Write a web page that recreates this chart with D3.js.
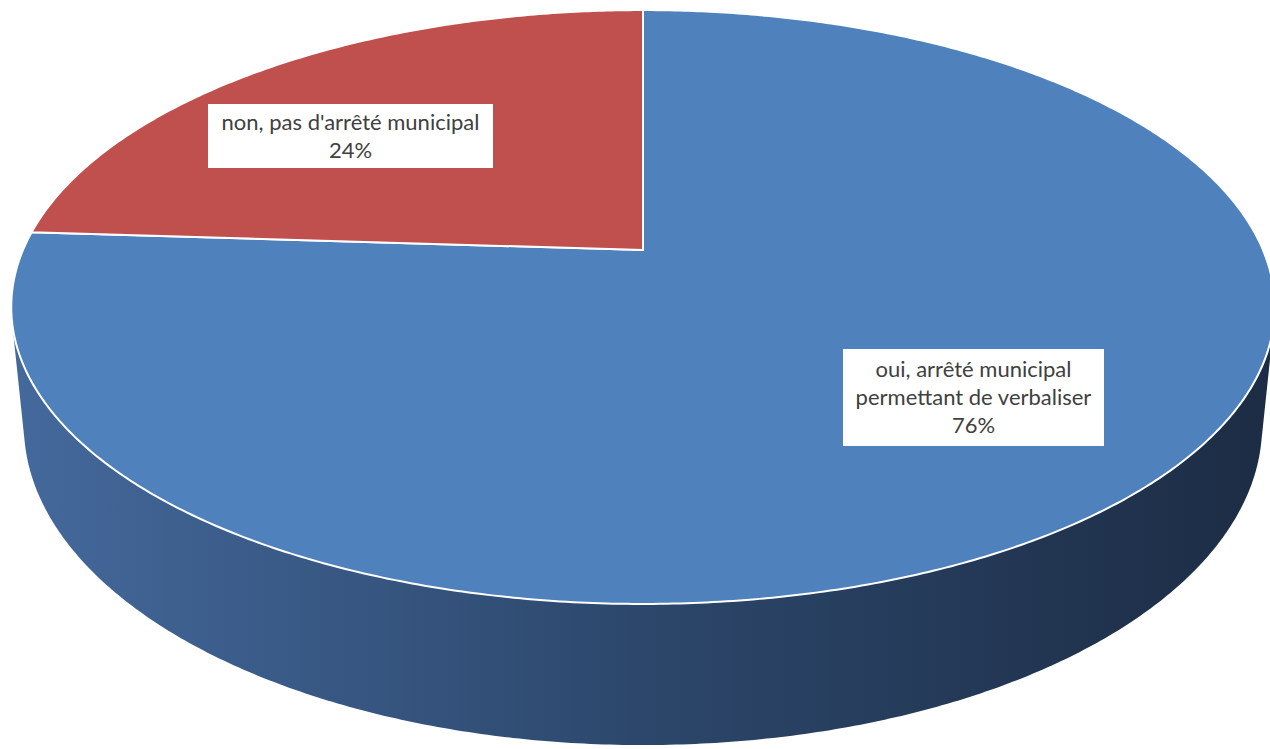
<!DOCTYPE html>
<html>
<head>
<meta charset="utf-8">
<script src="https://cdn.jsdelivr.net/npm/d3@7/dist/d3.min.js"></script>
<style>
  html, body { margin: 0; padding: 0; background: #ffffff; }
  svg { display: block; }
</style>
</head>
<body>
<svg id="chart" width="1270" height="749"></svg>
<script>
// ---- data ----
const categories = ["oui, arrêté municipal permettant de verbaliser", "non, pas d'arrêté municipal"];
const values = [76, 24];
const labelLines = [
  ["oui, arrêté municipal", "permettant de verbaliser"],
  ["non, pas d'arrêté municipal"]
];
const colors = ["#4f81bd", "#c0504d"];

// ---- geometry (perspective 3D pie) ----
const svg = d3.select("#chart");
const cx = 643, cy = 250;      // projected centre of the top face
const a = 620, b = 286, k = 0.192, depth = 114, shrink = 0.98;

function proj(theta, r, level) {
  const u = r * Math.sin(theta), v = -r * Math.cos(theta);
  const w = 1 - k * v;
  const s = level ? shrink : 1;
  return [cx + a * u * s / w, cy + (b * v + depth * level) / w];
}

const pie = d3.pie().sort(null).value(d => d)(values);

// gradient for the side
const defs = svg.append("defs");
const grad = defs.append("linearGradient").attr("id", "sideGrad")
  .attr("gradientUnits", "userSpaceOnUse")
  .attr("x1", 10).attr("y1", 0).attr("x2", 1270).attr("y2", 0);
grad.append("stop").attr("offset", 0).attr("stop-color", "#44699c");
grad.append("stop").attr("offset", 0.5).attr("stop-color", "#2c476b");
grad.append("stop").attr("offset", 1).attr("stop-color", "#1c2c44");

// side: convex hull of top and bottom rims
const N = 720;
const rimPts = [];
for (let i = 0; i < N; i++) {
  const t = i / N * 2 * Math.PI;
  rimPts.push(proj(t, 1, 0));
  rimPts.push(proj(t, 1, 1));
}
const hull = d3.polygonHull(rimPts);
svg.append("path")
  .attr("d", "M" + hull.map(p => p.join(",")).join("L") + "Z")
  .attr("fill", "url(#sideGrad)");

// top face slices
function slicePath(d) {
  const pts = [[cx, cy]];
  const n = Math.max(8, Math.ceil((d.endAngle - d.startAngle) / (2 * Math.PI) * 720));
  for (let i = 0; i <= n; i++) {
    const t = d.startAngle + (d.endAngle - d.startAngle) * i / n;
    pts.push(proj(t, 1, 0));
  }
  return "M" + pts.map(p => p.join(",")).join("L") + "Z";
}
svg.selectAll("path.slice").data(pie).enter().append("path")
  .attr("class", "slice")
  .attr("d", slicePath)
  .attr("fill", (d, i) => colors[i])
  .attr("stroke", "#ffffff")
  .attr("stroke-width", 2)
  .attr("stroke-linejoin", "miter");

// labels
const labelBoxes = [
  { x: 843, y: 349, w: 261, h: 97 },
  { x: 208, y: 104, w: 285, h: 64 }
];
const lineH = 28;
const fontSize = 22;
pie.forEach((d, i) => {
  const box = labelBoxes[i];
  const g = svg.append("g");
  g.append("rect")
    .attr("x", box.x).attr("y", box.y)
    .attr("width", box.w).attr("height", box.h)
    .attr("fill", "#ffffff");
  const lines = labelLines[i].concat([d3.format(".0%")(values[i] / d3.sum(values))]);
  const total = lines.length * lineH;
  const startY = box.y + box.h / 2 - total / 2 + lineH / 2;
  lines.forEach((ln, j) => {
    g.append("text")
      .attr("x", box.x + box.w / 2)
      .attr("y", startY + j * lineH)
      .attr("dy", "0.35em")
      .attr("text-anchor", "middle")
      .attr("font-family", "Lato, 'Open Sans', sans-serif")
      .attr("font-size", fontSize)
      .attr("fill", "#404040")
      .text(ln);
  });
});
</script>
</body>
</html>
